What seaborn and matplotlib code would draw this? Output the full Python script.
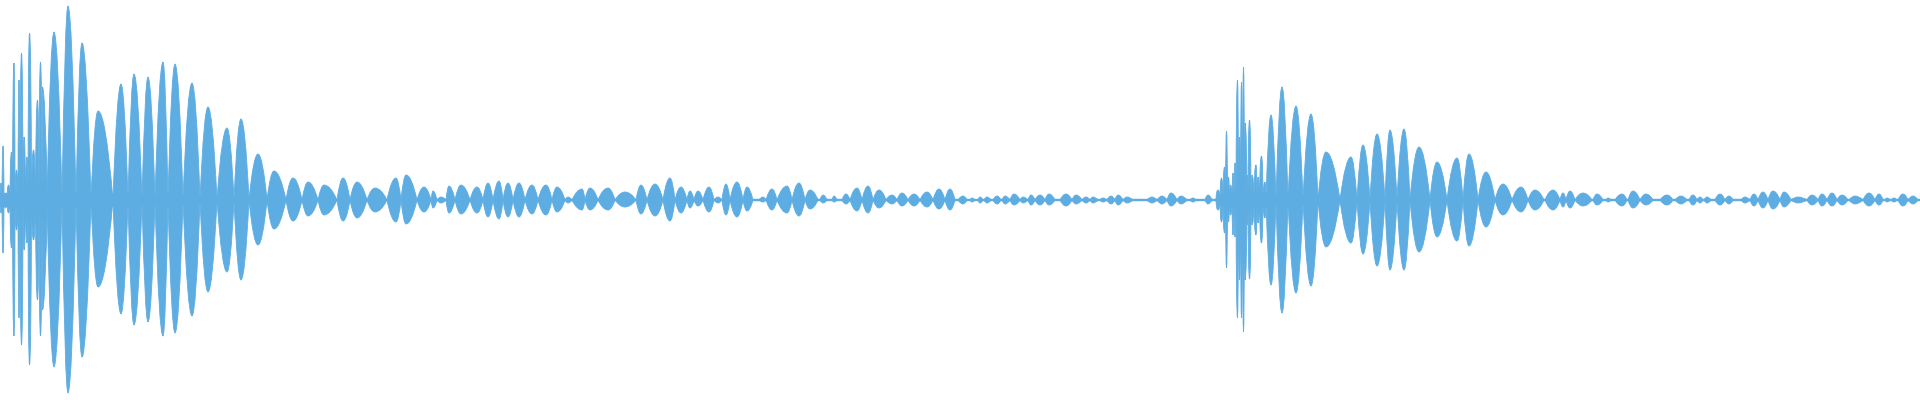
import numpy as np
import pandas as pd
import seaborn as sns
import matplotlib.pyplot as plt
from matplotlib.path import Path
from matplotlib.patches import PathPatch

# waveform: x in pixel columns (0-1920),
# amplitude in pixels above / below the centre line
lobe_start = [0, 2, 4, 7, 10, 12.5, 15, 18, 20, 23, 25.5, 28, 31.5, 35.5, 39, 42,
              47, 62, 76, 91, 113, 128, 142, 155, 168, 183, 200, 217, 234, 249, 267, 286, 302,
              318, 337, 350, 367, 387, 401, 417, 431, 437, 446, 455, 470, 483, 493, 503, 513,
              525, 538, 552, 565, 572, 585, 598, 615, 636,
              647, 663, 675, 687, 694, 703, 714, 722, 730, 743, 759, 766, 777, 792, 805, 820,
              832, 842, 850, 862, 873, 886, 897, 908, 920, 933, 945,
              958, 970, 978, 984, 993, 1002, 1010, 1020, 1028, 1035, 1045, 1060, 1072, 1082,
              1090, 1100, 1107, 1115, 1123, 1147, 1157, 1167, 1177, 1190, 1205,
              1216, 1220, 1223, 1225.5, 1227.5, 1229.5, 1232, 1234, 1236, 1238.5, 1240.5,
              1242.5, 1244.5, 1247, 1248, 1251, 1254, 1257, 1259.5, 1263,
              1266, 1276, 1288, 1303, 1318, 1340, 1357, 1370, 1385, 1397, 1410, 1430, 1447,
              1463, 1478, 1495, 1512, 1528, 1545, 1560, 1566, 1575, 1593, 1606,
              1615, 1628, 1640, 1660, 1675, 1689, 1697, 1704, 1715, 1725, 1741, 1750, 1758,
              1768, 1780, 1791, 1807, 1818, 1827, 1837, 1849, 1863, 1875, 1885, 1891, 1898, 1908]
lobe_peak = [1, 3, 5.5, 8.5, 11.5, 14, 16.5, 19, 21.5, 24, 27, 29.5, 33.5, 37.5, 40.5, 42.5,
             54, 68, 82, 98, 121, 134, 148, 163, 175, 192, 208, 227, 241, 258, 274, 293, 308,
             324, 343, 357, 375, 396, 406, 424, 433, 441, 449, 461, 477, 488, 499, 508, 519,
             532, 546, 557, 568, 582, 590, 608, 625, 641,
             655, 670, 681, 690, 698, 709, 718, 726, 737, 747, 763, 772, 787, 799, 810, 823,
             834, 846, 857, 868, 879, 892, 902, 914, 927, 939, 950,
             963, 972, 980, 987, 997, 1005, 1014, 1023, 1031, 1040, 1049, 1066, 1076, 1086,
             1093, 1103, 1111, 1118, 1127, 1152, 1162, 1171, 1181, 1193, 1208,
             1218, 1221.5, 1224.5, 1226.5, 1228.5, 1230.5, 1233, 1235, 1237.5, 1239.5, 1241.5,
             1243.5, 1245, 1247.5, 1249.5, 1252, 1256, 1258, 1261.5, 1265,
             1271, 1282, 1296, 1311, 1326, 1351, 1363, 1377, 1390, 1404, 1419, 1437, 1457,
             1469, 1486, 1503, 1521, 1535, 1553, 1563, 1570, 1583, 1597, 1608,
             1622, 1633, 1646, 1667, 1681, 1693, 1700, 1707, 1720, 1729, 1745, 1754, 1763,
             1773, 1784, 1798, 1812, 1822, 1832, 1842, 1855, 1869, 1879, 1887, 1894, 1903, 1913]
lobe_end = [2, 4, 7, 10, 12.5, 15, 18, 20, 23, 25.5, 28, 31.5, 35.5, 39, 42, 47.5,
            62, 76, 91, 113, 128, 142, 155, 168, 183, 200, 217, 234, 249, 267, 286, 302, 318,
            337, 350, 367, 387, 401, 417, 431, 437, 446, 455, 470, 483, 493, 503, 513, 525,
            538, 552, 565, 572, 585, 598, 615, 636, 647,
            663, 675, 687, 694, 703, 714, 722, 730, 743, 753, 766, 777, 792, 805, 818, 827,
            837, 850, 862, 873, 886, 897, 908, 920, 933, 945, 955,
            967, 975, 983, 991, 1001, 1010, 1020, 1028, 1035, 1045, 1055, 1072, 1082, 1090,
            1098, 1107, 1115, 1123, 1133, 1157, 1167, 1177, 1187, 1196, 1212,
            1220, 1223, 1225.5, 1227.5, 1229.5, 1232, 1234, 1236, 1238.5, 1240.5, 1242.5,
            1244.5, 1247, 1248, 1251, 1254, 1257, 1259.5, 1263, 1266,
            1276, 1288, 1303, 1318, 1340, 1357, 1370, 1385, 1397, 1410, 1430, 1447, 1463,
            1478, 1495, 1512, 1528, 1544, 1560, 1566, 1575, 1592, 1603, 1611,
            1627, 1640, 1653, 1673, 1687, 1697, 1703, 1711, 1725, 1733, 1750, 1758, 1768,
            1780, 1791, 1807, 1818, 1827, 1837, 1848, 1863, 1875, 1883, 1890, 1897, 1908, 1918]
lobe_top = [17, 54, 7, 15, 48, 137, 30, 120, 147, 63, 43, 167, 50, 100, 138, 113,
            168, 194, 157, 89, 116, 126, 123, 138, 136, 117, 93, 72, 81, 46, 29, 22, 18,
            15, 22, 18, 12, 22, 25, 13, 9, 3, 14, 15, 13, 17, 19, 17, 17,
            15, 15, 13, 3, 11, 12, 12, 8, 15,
            16, 22, 13, 9, 9, 13, 3, 16, 18, 13, 3, 11, 14, 17, 10, 5,
            4, 6, 12, 14, 10, 5, 7, 6, 8, 11, 11,
            4, 2, 3, 3, 4, 4, 6, 3, 5, 5, 6, 6, 5, 3,
            3, 2, 4, 5, 3, 3, 4, 7, 4, 2, 5,
            10, 22, 33, 69, 23, 15, 27, 37, 120, 63, 118,
            133, 77, 25, 80, 25, 35, 23, 44, 18,
            85, 113, 94, 86, 48, 43, 55, 66, 70, 71, 53, 38, 42,
            46, 28, 16, 13, 10, 10, 7, 9, 7, 6, 2,
            6, 9, 6, 5, 4, 5, 3, 3, 6, 4, 3, 6, 8,
            9, 8, 3, 5, 6, 7, 5, 4, 7, 6, 2, 2, 6, 4]
lobe_bottom = [13, 53, 8, 13, 48, 136, 30, 118, 145, 50, 43, 165, 40, 100, 136, 110,
               167, 193, 157, 87, 114, 125, 122, 136, 133, 116, 92, 72, 80, 45, 29, 21, 16,
               15, 21, 18, 12, 22, 24, 12, 8, 3, 13, 14, 13, 17, 19, 17, 17,
               14, 15, 12, 3, 10, 10, 10, 7, 14,
               16, 21, 13, 8, 6, 12, 3, 15, 17, 11, 2, 10, 13, 16, 9, 3,
               2, 4, 11, 13, 8, 4, 6, 6, 7, 9, 10,
               4, 2, 3, 3, 4, 4, 5, 3, 5, 5, 5, 6, 4, 3,
               3, 2, 4, 5, 3, 3, 4, 6, 4, 2, 4,
               10, 22, 33, 68, 22, 15, 35, 37, 118, 80, 118,
               132, 80, 25, 79, 25, 35, 23, 43, 18,
               85, 113, 93, 86, 47, 43, 54, 66, 70, 70, 52, 37, 41,
               46, 27, 15, 12, 10, 10, 7, 8, 6, 5, 2,
               6, 8, 5, 5, 4, 5, 3, 3, 5, 4, 3, 6, 8,
               9, 7, 3, 5, 6, 6, 5, 4, 6, 5, 2, 2, 6, 4]

# thickness of the band along the centre line between lobes
floor_x = [0, 120, 200, 270, 320, 1215, 1225, 1320, 1345, 1500, 1520, 1920]
floor_amp = [7, 7, 5, 3, 1.2, 1.2, 7, 6, 3, 2, 1.2, 1.2]

wave_color = "#5DADE2"

sns.set_theme(style="white")
fig = plt.figure(figsize=(19.2, 4), dpi=100)
ax = fig.add_axes([0, 0, 1, 1])

lobes = pd.DataFrame({"start": lobe_start, "peak": lobe_peak, "end": lobe_end,
                      "top": lobe_top, "bottom": lobe_bottom})

# each lobe as a rounded spindle; narrow spikes get a blunter, column-like body
for r in lobes.itertuples():
    k = 0.5 if (r.end - r.start) > 4 else 0.15
    left = r.start + k * (r.peak - r.start)
    right = r.end - k * (r.end - r.peak)
    verts = [(r.start, 0), (left, r.top), (r.peak, r.top), (right, r.top), (r.end, 0),
             (right, -r.bottom), (r.peak, -r.bottom), (left, -r.bottom), (r.start, 0),
             (r.start, 0)]
    codes = [Path.MOVETO, Path.CURVE3, Path.CURVE3, Path.CURVE3, Path.CURVE3,
             Path.CURVE3, Path.CURVE3, Path.CURVE3, Path.CURVE3, Path.CLOSEPOLY]
    ax.add_patch(PathPatch(Path(verts, codes), facecolor=wave_color,
                           edgecolor=wave_color, linewidth=0.6))

floor = np.array(floor_amp)
ax.fill_between(floor_x, -floor, floor, color=wave_color, linewidth=0)
sns.lineplot(x=floor_x, y=np.zeros(len(floor_x)), color=wave_color, linewidth=1.2, ax=ax)

ax.set_xlim(0, 1920)
ax.set_ylim(-200, 200)
ax.axis("off")
fig.savefig("out.png", dpi=100, facecolor="white")
